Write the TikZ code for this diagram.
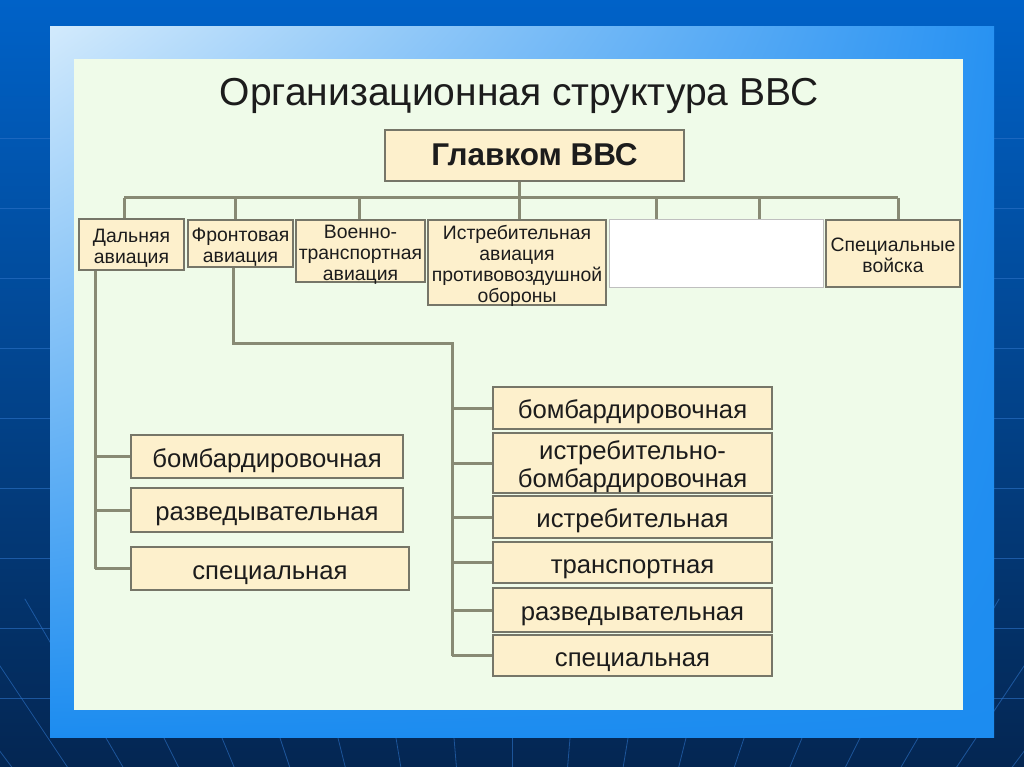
\documentclass[tikz,border=0pt]{standalone}
\usepackage{fontspec}
\setmainfont{Liberation Sans}
\usepackage{xcolor}
\usepackage{tikz}
\usetikzlibrary{calc,shadings}
\definecolor{vvsnavy}{RGB}{4,38,82}
\definecolor{vvsmid}{RGB}{8,78,160}
\definecolor{vvssky}{RGB}{0,98,200}
\definecolor{vvsgrid}{RGB}{45,115,200}
\definecolor{vvsframe}{RGB}{28,140,240}
\definecolor{vvsframeb}{RGB}{40,146,242}
\definecolor{vvspale}{RGB}{210,234,252}
\definecolor{vvspanel}{RGB}{239,251,233}
\definecolor{vvsbox}{RGB}{253,240,204}
\definecolor{vvsedge}{RGB}{118,118,104}
\definecolor{vvsline}{RGB}{136,138,116}
\definecolor{vvsink}{RGB}{28,28,28}
% box text: centred lines, lowered a little as on the slide
\newcommand\vvsraise{-0.49em}
\newcommand\vvstext[1]{\raisebox{\vvsraise}[0pt][0pt]{\begin{tabular}{@{}c@{}}#1\end{tabular}}}
\tikzset{
  unit/.style={
    draw=vvsedge, fill=vvsbox, line width=2pt,
    inner sep=0pt, text=vvsink,
    font=\fontsize{19.4}{21}\selectfont
  },
  subunit/.style={unit, font=\fontsize{25.7}{28}\selectfont,
    /utils/exec={\def\vvsraise{-0.45em}}},
  blank/.style={draw=black!25, fill=white, line width=1pt},
  link/.style={draw=vvsline, line width=3pt},
  grid/.style={draw=vvsgrid, line width=0.8pt, opacity=0.6}
}

\begin{document}
\begin{tikzpicture}[x=1pt,y=-1pt]
  \useasboundingbox (0,0) rectangle (1024,767);
  % slide background
  \begin{scope}
    \clip (0,0) rectangle (1024,767);
    \shade[top color=vvssky, middle color=vvsmid, bottom color=vvsnavy]
      (0,0) rectangle (1024,767);
    \foreach \y in {138,208,...,768}
      \draw[grid] (0,\y) -- (1024,\y);
    \foreach \k in {-9,...,9}
      \draw[grid] ($(512,1434)!0.95!(512+58*\k,738)$) -- ($(512,1434)!1.2!(512+58*\k,738)$);
  \end{scope}
  \shade[upper left=vvspale, upper right=vvsframeb,
         lower left=vvsframe, lower right=vvsframe]
    (50,27) rectangle (994,737);
  \fill[vvspanel] (74,59) rectangle (963,710);

  \node[text=vvsink, font=\fontsize{39}{44}\selectfont] (title) at (519,96)
    {Организационная структура ВВС};

  % top level
  \node[unit, font=\bfseries\fontsize{31.5}{34}\selectfont, /utils/exec={\def\vvsraise{-0.31em}},
        minimum width=299, minimum height=51] (glav) at (534.5,155.5) {\vvstext{Главком ВВС}};

  \node[unit, minimum width=105, minimum height=51] (dal) at (131.5,244.5) {\vvstext{Дальняя\\авиация}};
  \node[unit, minimum width=105, minimum height=47] (fr) at (240.5,243.5) {\vvstext{Фронтовая\\авиация}};
  \node[unit, minimum width=129, minimum height=62] (vta) at (360.5,251) {\vvstext{Военно-\\транспортная\\авиация}};
  \node[unit, minimum width=178, minimum height=85] (ipvo) at (517,262.5)
    {\vvstext{Истребительная\\авиация\\противовоздушной\\обороны}};
  \node[blank, minimum width=214, minimum height=67] (gap) at (716,253.5) {};
  \node[unit, minimum width=134, minimum height=67] (spv) at (893,253.5) {\vvstext{Специальные\\войска}};

  % long range branches
  \node[subunit, minimum width=272, minimum height=43] (dal1) at (267,456.5) {\vvstext{бомбардировочная}};
  \node[subunit, minimum width=272, minimum height=44] (dal2) at (267,510) {\vvstext{разведывательная}};
  \node[subunit, minimum width=278, minimum height=43] (dal3) at (270,568.5) {\vvstext{специальная}};

  % frontline branches
  \node[subunit, minimum width=279, minimum height=42] (fr1) at (632.5,408) {\vvstext{бомбардировочная}};
  \node[subunit, minimum width=279, minimum height=60] (fr2) at (632.5,463) {\vvstext{истребительно-\\бомбардировочная}};
  \node[subunit, minimum width=279, minimum height=42] (fr3) at (632.5,517) {\vvstext{истребительная}};
  \node[subunit, minimum width=279, minimum height=41] (fr4) at (632.5,562.5) {\vvstext{транспортная}};
  \node[subunit, minimum width=279, minimum height=44] (fr5) at (632.5,610) {\vvstext{разведывательная}};
  \node[subunit, minimum width=279, minimum height=41] (fr6) at (632.5,655.5) {\vvstext{специальная}};

  \coordinate (trunk) at (519,198);
  \coordinate (busL) at (124,198);
  \coordinate (busR) at (898,198);
  \draw[link] (glav.south -| trunk) -- (trunk);
  \draw[link] (busL) -- (busR);
  \foreach \x/\n in {124/dal,235/fr,359/vta,519/ipvo,656/gap,759/gap,898/spv}
    \draw[link] (\x,198) -- (\x,198 |- \n.north);

  \coordinate (ltr) at (95,300);
  \draw[link] (dal.south -| ltr) -- (dal3.west -| ltr);
  \foreach \n in {dal1,dal2,dal3}
    \draw[link] (\n.west -| ltr) -- (\n.west);

  \coordinate (fdrop) at (233,300);
  \coordinate (fbend) at (452,343);
  \draw[link] (fr.south -| fdrop) |- (fbend) -- (fr6.west -| fbend);
  \foreach \n in {fr1,fr2,fr3,fr4,fr5,fr6}
    \draw[link] (\n.west -| fbend) -- (\n.west);
\end{tikzpicture}
\end{document}
